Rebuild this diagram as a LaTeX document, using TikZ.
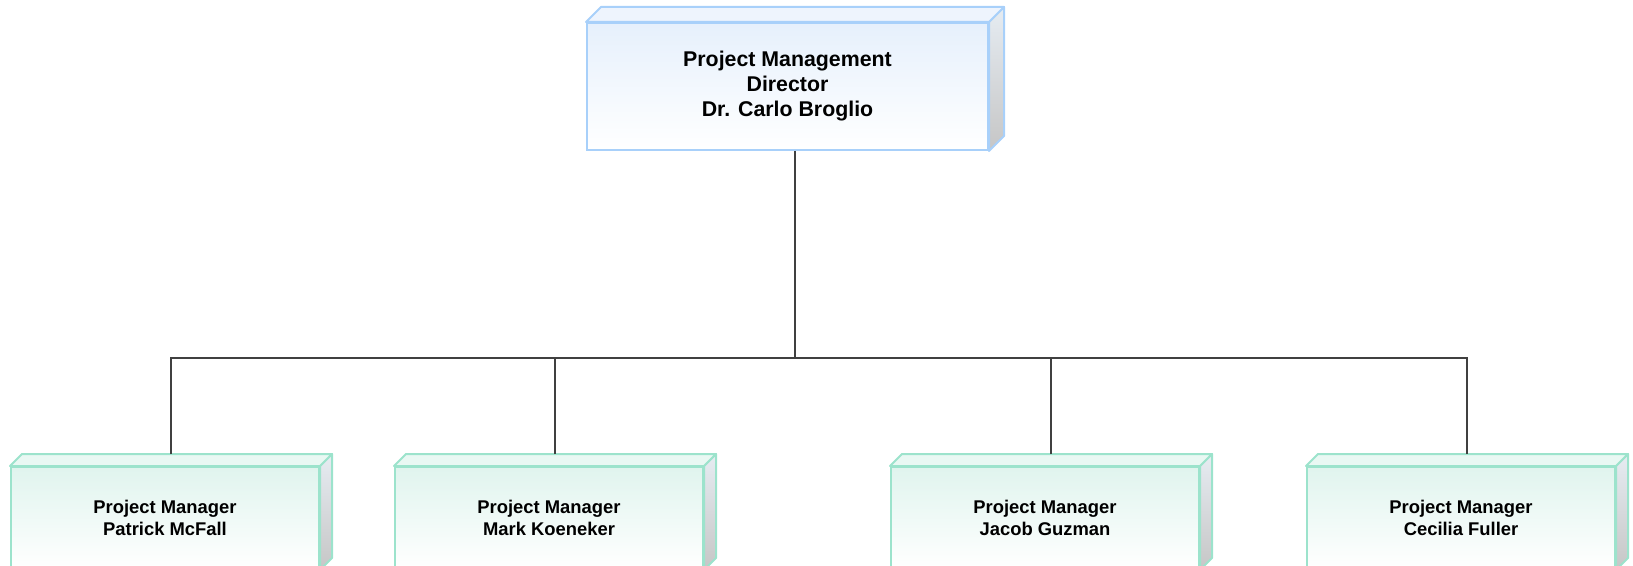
\documentclass[tikz,border=0pt]{standalone}
\usepackage{fontspec}
\setmainfont{Liberation Sans}
\usetikzlibrary{calc}
\definecolor{topbord}{HTML}{A8D0FA}
\definecolor{topfill}{HTML}{E6F0FC}
\definecolor{topcap}{HTML}{EEF4FD}
\definecolor{mgrbord}{HTML}{9CE3CC}
\definecolor{mgrfill}{HTML}{E0F4EE}
\definecolor{mgrcap}{HTML}{E9F8F3}
\definecolor{sidetop}{HTML}{E6ECF2}
\definecolor{sidebot}{HTML}{C6C6C6}
\definecolor{connc}{HTML}{404040}
\tikzset{
  front/.style={inner sep=0pt, anchor=north west, line width=1.5pt, align=center, font=\bfseries},
  dirbox/.style={front, draw=topbord, top color=topfill, bottom color=white,
    font=\fontsize{16}{18.75}\selectfont\bfseries},
  mgrbox/.style={front, draw=mgrbord, top color=mgrfill, bottom color=white,
    font=\fontsize{13.8}{16.5}\selectfont\bfseries},
  conn/.style={draw=connc, line width=1pt},
}
% #1 node name, #2 border colour, #3 cap colour, #4 depth
\newcommand{\cubefaces}[4]{%
  \shade[top color=sidetop, bottom color=sidebot, draw=#2, line width=1.5pt, line join=round]
    (#1.north east) -- ++(#4,-#4) -- ($(#1.south east)+(#4,-#4)$) -- (#1.south east) -- cycle;
  \filldraw[fill=#3, draw=#2, line width=1.5pt, line join=round]
    (#1.north west) -- ++(#4,-#4) -- ($(#1.north east)+(#4,-#4)$) -- (#1.north east) -- cycle;
}
\begin{document}
\begin{tikzpicture}[x=0.75pt,y=-0.75pt]
\useasboundingbox (0,0) rectangle (1633,566);
\node[dirbox, minimum width=300.75pt, minimum height=95.25pt] (D) at (586,22)
  {Project Management\\Director\\Dr. Carlo Broglio};
\cubefaces{D}{topbord}{topcap}{15}
\node[mgrbox, minimum width=231pt, minimum height=76.5pt] (M1) at (10,466)
  {Project Manager\\Patrick McFall};
\cubefaces{M1}{mgrbord}{mgrcap}{12}
\node[mgrbox, minimum width=231pt, minimum height=76.5pt] (M2) at (394,466)
  {Project Manager\\Mark Koeneker};
\cubefaces{M2}{mgrbord}{mgrcap}{12}
\node[mgrbox, minimum width=231pt, minimum height=76.5pt] (M3) at (890,466)
  {Project Manager\\Jacob Guzman};
\cubefaces{M3}{mgrbord}{mgrcap}{12}
\node[mgrbox, minimum width=231pt, minimum height=76.5pt] (M4) at (1306,466)
  {Project Manager\\Cecilia Fuller};
\cubefaces{M4}{mgrbord}{mgrcap}{12}
% connection points
\coordinate (Db) at ($(D.south)+(7.5,0)$);
\coordinate (M1t) at ($(M1.north)+(6,-12)$);
\coordinate (M2t) at ($(M2.north)+(6,-12)$);
\coordinate (M3t) at ($(M3.north)+(6,-12)$);
\coordinate (M4t) at ($(M4.north)+(6,-12)$);
\coordinate (bus) at (0,358);
\draw[conn] (Db) -- (Db |- bus);
\draw[conn] (M1t) |- (bus -| M4t) -- (M4t);
\draw[conn] (M2t) -- (M2t |- bus);
\draw[conn] (M3t) -- (M3t |- bus);
\end{tikzpicture}
\end{document}
